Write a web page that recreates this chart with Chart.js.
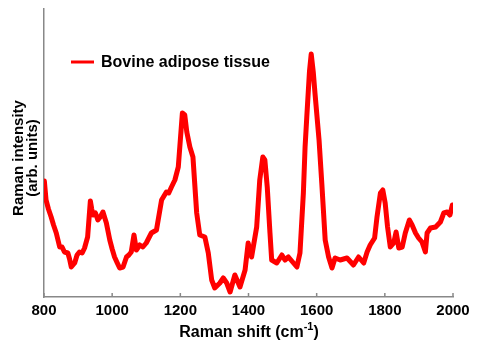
<!DOCTYPE html>
<html>
<head>
<meta charset="utf-8">
<script src="https://cdn.jsdelivr.net/npm/chart.js@4"></script>
<style>
html,body{margin:0;padding:0;background:#fff;}
canvas{display:block;}
</style>
</head>
<body>
<canvas id="c" width="500" height="350"></canvas>
<script>
// Raman shift (cm^-1)
const shifts = [801,806,813,821,828,836,846,853,860,870,875,880,890,897,904,912,919,928,936,940,944,951,958,965,973,983,993,1000,1007,1015,1022,1032,1042,1049,1056,1064,1071,1081,1090,1100,1115,1130,1145,1159,1166,1174,1184,1194,1206,1213,1219,1228,1237,1248,1257,1272,1282,1292,1301,1316,1326,1336,1346,1360,1375,1390,1399,1409,1424,1433,1442,1448,1455,1463,1468,1483,1498,1507,1517,1532,1542,1551,1561,1566,1571,1579,1584,1590,1595,1607,1615,1625,1635,1645,1654,1669,1689,1708,1723,1738,1748,1757,1770,1777,1787,1794,1801,1808,1816,1826,1833,1841,1851,1860,1872,1880,1890,1899,1909,1919,1924,1934,1949,1963,1973,1983,1991,1998];
// Raman intensity (arb. units)
const intensity = [116,97,88,80,72,64,50,50,45,44,38,30,34,42,45,44,49,60,96,88,82,84,77,80,85,74,57,48,40,34,29,30,40,42,45,62,47,52,50,54,64,67,97,105,104,110,117,130,184,182,165,150,140,84,62,60,44,17,9,14,19,14,5,22,10,27,54,40,70,117,140,137,110,64,37,34,42,37,40,34,30,44,104,150,180,226,243,225,204,157,114,57,40,29,39,37,39,32,40,34,45,52,59,80,104,107,94,70,50,54,65,49,50,64,77,72,64,59,55,45,64,69,70,75,84,85,82,92];
const seriesName = "Bovine adipose tissue";
const xTicks = [800,1000,1200,1400,1600,1800,2000];
const xTitle = "Raman shift (cm";
const xTitleSup = "-1";
const yTitle = ["Raman intensity", "(arb. units)"];

const points = shifts.map((s,i)=>({x:s,y:intensity[i]}));
const FONT = '"Liberation Sans", Arial, sans-serif';

const decor = {
  id:'decor',
  afterDraw(chart){
    const ctx = chart.ctx;
    const xs = chart.scales.x;
    const area = chart.chartArea;
    ctx.save();
    // inward tick marks
    ctx.strokeStyle = '#888';
    ctx.lineWidth = 1.5;
    xTicks.forEach(v=>{
      const px = xs.getPixelForValue(v);
      ctx.beginPath();
      ctx.moveTo(px, area.bottom);
      ctx.lineTo(px, area.bottom-4);
      ctx.stroke();
    });
    // legend
    ctx.strokeStyle = '#ff0000';
    ctx.lineWidth = 3;
    ctx.beginPath();
    ctx.moveTo(71,62); ctx.lineTo(94,62); ctx.stroke();
    ctx.fillStyle = '#000';
    ctx.font = 'bold 16px ' + FONT;
    ctx.textBaseline = 'alphabetic';
    ctx.textAlign = 'left';
    ctx.fillText(seriesName, 101, 67);
    // x title with superscript
    ctx.font = 'bold 16px ' + FONT;
    const w1 = ctx.measureText(xTitle).width;
    ctx.font = 'bold 11px ' + FONT;
    const w2 = ctx.measureText(xTitleSup).width;
    ctx.font = 'bold 16px ' + FONT;
    const w3 = ctx.measureText(')').width;
    const total = w1 + w2 + w3;
    let x0 = 249 - total/2;
    ctx.fillText(xTitle, x0, 337);
    ctx.font = 'bold 11px ' + FONT;
    ctx.fillText(xTitleSup, x0 + w1, 330);
    ctx.font = 'bold 16px ' + FONT;
    ctx.fillText(')', x0 + w1 + w2, 337);
    // y title
    ctx.font = 'bold 15px ' + FONT;
    ctx.textAlign = 'center';
    ctx.save();
    ctx.translate(23,158); ctx.rotate(-Math.PI/2);
    ctx.fillText(yTitle[0],0,0);
    ctx.restore();
    ctx.save();
    ctx.translate(37,158); ctx.rotate(-Math.PI/2);
    ctx.fillText(yTitle[1],0,0);
    ctx.restore();
    ctx.restore();
  }
};

new Chart(document.getElementById('c'), {
  type:'line',
  data:{datasets:[{label:seriesName,data:points,borderColor:'#ff0000',borderWidth:5,pointRadius:0,tension:0,fill:false,borderJoinStyle:'round',borderCapStyle:'round'}]},
  options:{
    responsive:false,
    animation:false,
    devicePixelRatio:1,
    layout:{padding:{top:9,right:47,left:0,bottom:0}},
    plugins:{legend:{display:false},tooltip:{enabled:false}},
    scales:{
      x:{type:'linear',min:800,max:2000,
        afterBuildTicks(s){s.ticks = xTicks.map(v=>({value:v}));},
        afterFit(s){s.height=53;},
        grid:{display:false,drawTicks:false},
        border:{display:true,color:'#888',width:1.5},
        ticks:{padding:5,color:'#000',font:{family:FONT,size:15,weight:'bold'},maxRotation:0,autoSkip:false,
          callback:(v)=>String(v)}
      },
      y:{type:'linear',min:0,max:288,
        afterFit(s){s.width=44;},
        grid:{display:false,drawTicks:false},
        border:{display:true,color:'#888',width:1.5},
        ticks:{display:false}
      }
    }
  },
  plugins:[decor]
});
</script>
</body>
</html>
